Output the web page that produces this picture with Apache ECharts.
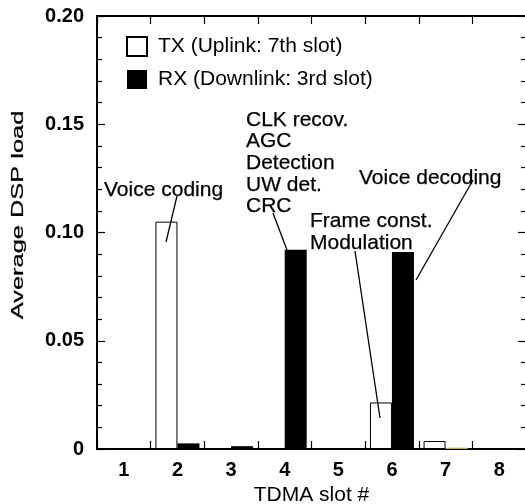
<!DOCTYPE html>
<html>
<head>
<meta charset="utf-8">
<script src="https://cdn.jsdelivr.net/npm/echarts@6/dist/echarts.min.js"></script>
<style>
html,body{margin:0;padding:0;background:#fff;}
#chart{width:525px;height:504px;}
</style>
</head>
<body>
<div id="chart"></div>
<script>
// ---- data ----
const slots = ['1', '2', '3', '4', '5', '6', '7', '8'];
const txLoad = [0, 0.105, 0, 0, 0, 0.0215, 0.0037, 0];
const rxLoad = [0, 0.0026, 0.0013, 0.092, 0, 0.091, 0.0006, 0];
const yTicks = [0, 0.05, 0.10, 0.15, 0.20];
const seriesNames = ['TX (Uplink: 7th slot)', 'RX (Downlink: 3rd slot)'];
const xTitle = 'TDMA slot #';
const yTitle = 'Average DSP load';
const noteVoiceCoding = 'Voice coding';
const noteRxSlot4 = ['CLK recov.', 'AGC', 'Detection', 'UW det.', 'CRC'];
const noteTxSlot6 = ['Frame const.', 'Modulation'];
const noteVoiceDecoding = 'Voice decoding';

const FONT = '"Liberation Sans", Arial, Helvetica, sans-serif';
const chart = echarts.init(document.getElementById('chart'));

function txt(s, x, y) {
  return { type: 'text', x: x, y: y, z: 100,
    style: { text: s, fontFamily: FONT, fontSize: 21, fill: '#000', align: 'left', verticalAlign: 'middle',
      stroke: '#000', lineWidth: 0.25 } };
}
function ln(x1, y1, x2, y2) {
  return { type: 'line', z: 100, shape: { x1: x1, y1: y1, x2: x2, y2: y2 },
    style: { stroke: '#000', lineWidth: 1.3 } };
}

const graphics = [];
graphics.push({ type: 'text', x: 18, y: 215, rotation: Math.PI / 2, scaleX: 1.27, scaleY: 0.82,
  style: { text: yTitle, fontFamily: FONT, fontSize: 20, fill: '#000', align: 'center', verticalAlign: 'middle',
    stroke: '#000', lineWidth: 0.3 } });
graphics.push(txt(noteVoiceCoding, 104, 190));
graphics.push(ln(177, 196, 166, 242));
noteRxSlot4.forEach((s, i) => graphics.push(txt(s, 246, 120 + i * 21.6)));
graphics.push(ln(273, 213, 287, 250));
noteTxSlot6.forEach((s, i) => graphics.push(txt(s, 310, 221 + i * 22)));
graphics.push(ln(355, 251, 380, 418));
graphics.push(txt(noteVoiceDecoding, 359, 178));
graphics.push(ln(473, 180, 416, 280));

const yFmt = v => (v === 0 ? '0' : v.toFixed(2));
const tick = { show: true, inside: false, length: -8, lineStyle: { color: '#000', width: 1.2 } };
const minor = { show: true, splitNumber: 5, length: -5, lineStyle: { color: '#000', width: 1.2 } };
const axLine = { show: true, onZero: false, lineStyle: { color: '#000', width: 2 } };

chart.setOption({
  animation: false,
  backgroundColor: '#fff',
  grid: { left: 97, right: -1, top: 16, bottom: 55, containLabel: false, outerBoundsMode: 'none' },
  legend: {
    orient: 'vertical', left: 126, top: 36, padding: 0,
    itemWidth: 20, itemHeight: 19, itemGap: 12, itemTextGap: 10,
    icon: 'rect',
    textStyle: { fontFamily: FONT, fontSize: 21, color: '#000', lineHeight: 21, padding: [0, 0, 0, 6] },
    data: seriesNames
  },
  xAxis: [{
    type: 'category', data: slots, position: 'bottom',
    axisLine: axLine, axisTick: tick,
    axisLabel: { fontFamily: FONT, fontSize: 20, fontWeight: 'bold', color: '#000', margin: 11 },
    name: xTitle, nameLocation: 'middle', nameGap: 32,
    nameTextStyle: { fontFamily: FONT, fontSize: 21, color: '#000' },
    splitLine: { show: false }
  }, {
    type: 'category', data: slots, position: 'top',
    axisLine: axLine, axisTick: tick,
    axisLabel: { show: false }, splitLine: { show: false }
  }],
  yAxis: [{
    type: 'value', min: yTicks[0], max: yTicks[yTicks.length - 1], interval: yTicks[1] - yTicks[0],
    position: 'left',
    axisLine: axLine, axisTick: tick, minorTick: minor,
    axisLabel: { fontFamily: FONT, fontSize: 20, fontWeight: 'bold', color: '#000', margin: 13, formatter: yFmt },
    splitLine: { show: false }
  }, {
    type: 'value', min: yTicks[0], max: yTicks[yTicks.length - 1], interval: yTicks[1] - yTicks[0],
    position: 'right',
    axisLine: axLine, axisTick: tick, minorTick: minor,
    axisLabel: { show: false }, splitLine: { show: false }
  }],
  series: [{
    name: seriesNames[0], type: 'bar', xAxisIndex: 0, yAxisIndex: 0,
    barWidth: 22, barGap: '0%',
    itemStyle: { color: '#fff', borderColor: '#000', borderWidth: 1 },
    data: txLoad
  }, {
    name: seriesNames[1], type: 'bar', xAxisIndex: 0, yAxisIndex: 0,
    barWidth: 22, barGap: '0%',
    itemStyle: { color: '#000', borderColor: '#000', borderWidth: 0 },
    data: rxLoad.map((v, i) => (i === 6 ? { value: v, itemStyle: { color: '#b8b050' } } : v))
  }],
  graphic: graphics
});
</script>
</body>
</html>
